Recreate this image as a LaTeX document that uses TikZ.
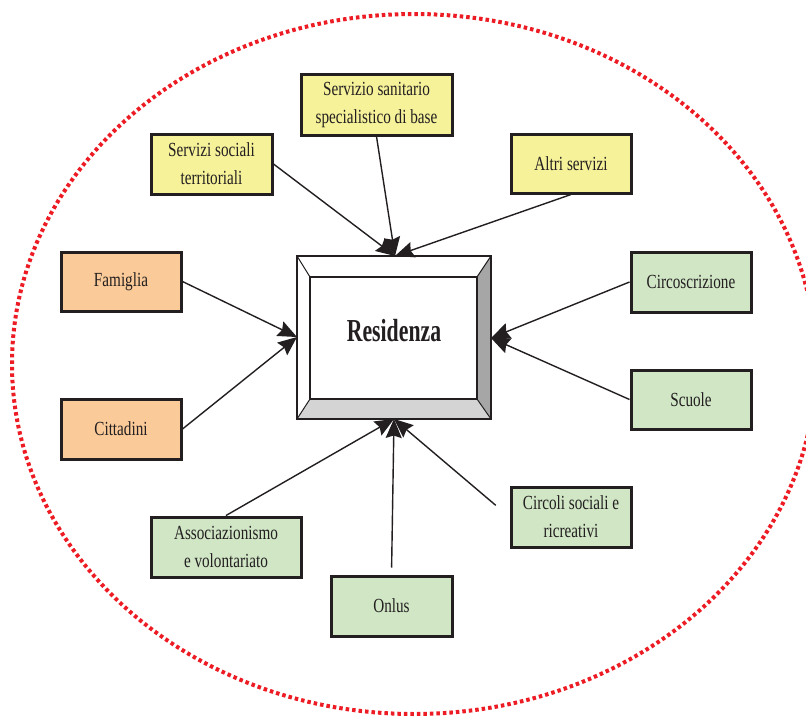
\documentclass[tikz,border=0pt]{standalone}
\usepackage{fontspec}
\usetikzlibrary{arrows.meta,calc}
\newfontfamily\boxfont[FakeStretch=0.76]{Liberation Serif}
\newfontfamily\resfont[FakeStretch=0.68]{Liberation Serif}
\definecolor{ink}{HTML}{231F20}
\definecolor{dotred}{HTML}{ED1C24}
\definecolor{yfill}{HTML}{F6F29A}
\definecolor{ofill}{HTML}{FACA98}
\definecolor{gfill}{HTML}{D0E6C5}
\definecolor{rface}{HTML}{A6A6A6}
\definecolor{bface}{HTML}{D4D4D4}
\tikzset{
  sbox/.style={draw=ink, line width=3pt, rectangle, align=center, inner sep=0pt,
    text=ink, font=\boxfont\fontsize{20}{28}\selectfont},
  ybox/.style={sbox, fill=yfill},
  obox/.style={sbox, fill=ofill},
  gbox/.style={sbox, fill=gfill},
  conn/.style={draw=ink, line width=1.4pt, -{Stealth[length=19pt,width=16pt,inset=2.5pt]}},
}
\begin{document}
\begin{tikzpicture}[x=1pt,y=-1pt]
\useasboundingbox (0,0) rectangle (806,717);
\fill[white] (0,0) rectangle (806,717);
% dotted ellipse
\draw[dotred, line width=4pt, dash pattern=on 3.5pt off 3pt] (414,364) ellipse [x radius=402, y radius=350];

% central box
\node[minimum width=194, minimum height=163, inner sep=0pt, outer sep=0pt] (res) at (394,337.5) {};
\coordinate (onw) at (res.north west);
\coordinate (one) at (res.north east);
\coordinate (osw) at (res.south west);
\coordinate (ose) at (res.south east);
\coordinate (inw) at ($(onw)+(13,21)$);
\coordinate (ine) at ($(one)+(-14,21)$);
\coordinate (isw) at ($(osw)+(13,-20)$);
\coordinate (ise) at ($(ose)+(-14,-20)$);
\fill[white] (onw) -- (one) -- (ine) -- (inw) -- cycle;
\fill[white] (onw) -- (inw) -- (isw) -- (osw) -- cycle;
\fill[rface] (one) -- (ose) -- (ise) -- (ine) -- cycle;
\fill[bface] (osw) -- (ose) -- (ise) -- (isw) -- cycle;
\fill[white] (inw) rectangle (ise);
\draw[ink, line width=1.4pt] (onw) rectangle (ose);
\draw[ink, line width=1.8pt] (inw) rectangle (ise);
\draw[ink, line width=1pt] (onw) -- (inw) (one) -- (ine) (osw) -- (isw) (ose) -- (ise);
\node[text=ink, font=\resfont\bfseries\fontsize{32}{36}\selectfont] (restext) at (394,331) {Residenza};

\coordinate (rtop) at (395,256);
\coordinate (rbot) at (394,419);
\coordinate (rleft) at (297,337);
\coordinate (rright) at (491,338);

% satellite boxes
\node[ybox, minimum width=151, minimum height=60] (ssan) at (376.5,105) {Servizio sanitario\\specialistico di base};
\node[ybox, minimum width=121, minimum height=60] (ssoc) at (211.5,164) {Servizi sociali\\territoriali};
\node[ybox, minimum width=120, minimum height=59] (altri) at (571,163.5) {Altri servizi};
\node[obox, minimum width=120, minimum height=59] (fam) at (121,281.5) {Famiglia};
\node[obox, minimum width=120, minimum height=60] (citt) at (121,429) {Cittadini};
\node[gbox, minimum width=120, minimum height=60] (circ) at (691,282) {Circoscrizione};
\node[gbox, minimum width=120, minimum height=59] (scuole) at (691,399.5) {Scuole};
\node[gbox, minimum width=120, minimum height=60] (circoli) at (571,517) {Circoli sociali e\\ricreativi};
\node[gbox, minimum width=150, minimum height=60] (assoc) at (226,547) {Associazionismo\\e volontariato};
\node[gbox, minimum width=121, minimum height=60] (onlus) at (391.5,606) {Onlus};

% connectors
\draw[conn] (ssoc.east) -- (rtop);
\draw[conn] (ssan.south) -- (rtop);
\draw[conn] (altri.south) -- (rtop);
\draw[conn] (fam.east) -- (rleft);
\draw[conn] (citt.east) -- (rleft);
\draw[conn] (circ.west) -- (rright);
\draw[conn] (scuole.west) -- (rright);
\draw[conn] (assoc.north) -- (rbot);
\draw[conn, shorten <=7pt] (onlus.north) -- (rbot);
\draw[conn, shorten <=18pt] (circoli.west) -- (rbot);
\end{tikzpicture}
\end{document}
